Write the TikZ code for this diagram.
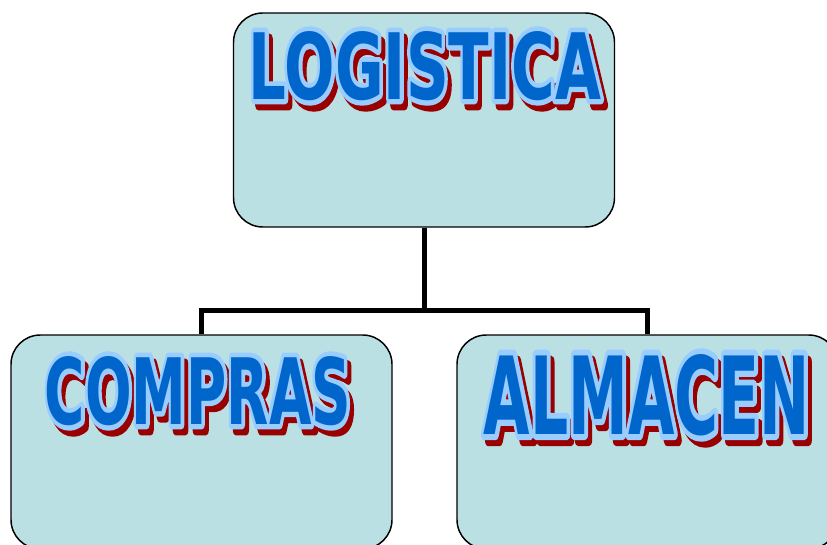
\documentclass[tikz,border=0pt]{standalone}
\usepackage{fontspec}
\newfontfamily\artfont{DejaVu Sans}
\usetikzlibrary{positioning, calc}
\definecolor{boxfill}{RGB}{187,224,227}
\definecolor{artblue}{RGB}{0,102,204}
\definecolor{artedge}{RGB}{153,204,255}
\definecolor{artshade}{RGB}{153,0,0}
\newlength{\px}\setlength{\px}{0.75pt}
\tikzstyle{block} = [rectangle, draw, fill=boxfill, line width=1.1pt,
    rounded corners=22pt, minimum width=381\px, minimum height=214\px, inner sep=0pt]
\tikzstyle{line} = [draw, line width=3.75pt]
\tikzstyle{art} = [inner sep=0pt, font=\artfont\bfseries]
% outlined letters: fill and stroke
\newcommand{\strokeit}[1]{\special{pdf:literal direct 2 Tr 1.1 w 1 j}#1\special{pdf:literal direct 0 Tr}}
% shadow, light outline, blue letters
\newcommand{\artlabel}[5]{%
  \node[art, text=artshade] (#1-shade) at ($(#2)+(4,6)$) {\strokeit{\resizebox{#3\px}{#4\px}{#5}}};
  \node[art, text=artedge] (#1-edge) at (#2) {\strokeit{\resizebox{#3\px}{#4\px}{#5}}};
  \node[art, text=artblue] (#1) at (#2) {\resizebox{#3\px}{#4\px}{#5}};
}
\begin{document}
\begin{tikzpicture}[x=0.75pt, y=-0.75pt]
  \useasboundingbox (0,0) rectangle (827,545);
   % Place nodes
    \node [block] (logistica) at (424,120) {};
    \node [block] (compras) at (201.5,442) {};
    \node [block] (almacen) at (647.5,442) {};
    \coordinate (split) at ($(logistica.south)+(0,83)$);
   % Draw edges
    \path [line] (logistica.south) -- (split);
    \path [line] (compras.north) |- (split) -| (almacen.north);
   % Titles
    \artlabel{logisticatext}{425,66}{352}{68}{LOGISTICA}
    \artlabel{comprastext}{198,391}{306}{68}{COMPRAS}
    \artlabel{almacentext}{647,395}{326}{80}{ALMACEN}
\end{tikzpicture}
\end{document}
